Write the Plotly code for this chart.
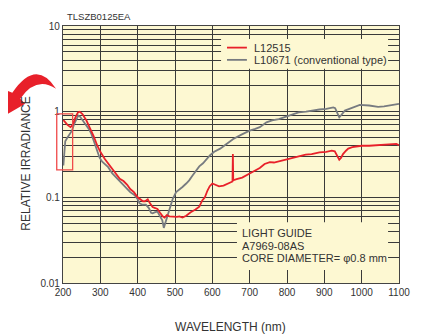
import plotly.graph_objects as go

# L12515 (red)
red_nm = [201, 205, 212, 220, 226, 233, 240, 245, 252, 262, 272, 282, 292, 300, 312, 325,
          340, 352, 362, 372, 380, 390, 400, 408, 414, 420, 427, 433, 440, 447, 453, 460,
          467, 472, 478, 485, 494, 505, 512, 520, 530, 542, 555, 565, 573, 580, 587, 593,
          600, 608, 618, 630, 645, 654, 655, 656, 665, 680, 700, 715, 727, 740, 754, 765,
          775, 790, 804, 815, 834, 850, 866, 887, 905, 920, 928, 933, 940, 945, 950, 958,
          964, 975, 1000, 1020, 1040, 1062, 1080, 1093, 1100]
red_val = [0.80, 0.76, 0.70, 0.66, 0.70, 0.85, 0.98, 1.0, 0.94, 0.80, 0.65, 0.52, 0.40, 0.34, 0.28, 0.235,
           0.19, 0.165, 0.155, 0.14, 0.125, 0.115, 0.10, 0.095, 0.09, 0.09, 0.095, 0.085, 0.077, 0.075, 0.073, 0.066,
           0.060, 0.058, 0.062, 0.060, 0.059, 0.059, 0.060, 0.058, 0.061, 0.067, 0.072, 0.078, 0.092, 0.10, 0.12, 0.135,
           0.145, 0.14, 0.134, 0.137, 0.145, 0.153, 0.32, 0.158, 0.163, 0.17, 0.19, 0.205, 0.22, 0.245, 0.257, 0.255,
           0.262, 0.27, 0.28, 0.29, 0.305, 0.315, 0.32, 0.335, 0.34, 0.35, 0.345, 0.31, 0.275, 0.29, 0.32, 0.35,
           0.37, 0.385, 0.40, 0.40, 0.405, 0.41, 0.415, 0.42, 0.405]

# L10671 (conventional type, gray)
gray_nm = [201, 203, 206, 212, 218, 224, 230, 236, 241, 246, 252, 258, 264, 270, 276, 281,
           287, 293, 298, 305, 312, 321, 332, 343, 355, 370, 380, 392, 400, 405, 413, 422,
           430, 436, 440, 447, 453, 460, 466, 470, 474, 480, 487, 494, 503, 511, 520, 530,
           538, 547, 556, 565, 575, 585, 594, 605, 621, 638, 656, 678, 700, 715, 727, 745,
           760, 778, 795, 810, 831, 851, 870, 887, 905, 924, 929, 935, 940, 946, 955, 967,
           985, 995, 1020, 1044, 1060, 1080, 1100]
gray_val = [0.235, 0.35, 0.45, 0.50, 0.54, 0.60, 0.72, 0.82, 0.90, 0.87, 0.80, 0.72, 0.66, 0.62, 0.55, 0.48,
            0.40, 0.33, 0.29, 0.26, 0.245, 0.225, 0.19, 0.17, 0.15, 0.126, 0.115, 0.106, 0.095, 0.085, 0.082, 0.082,
            0.075, 0.066, 0.065, 0.067, 0.068, 0.06, 0.054, 0.044, 0.05, 0.062, 0.08, 0.096, 0.115, 0.122, 0.132, 0.145,
            0.158, 0.18, 0.206, 0.23, 0.25, 0.28, 0.31, 0.34, 0.37, 0.42, 0.48, 0.54, 0.60, 0.63, 0.66, 0.75,
            0.79, 0.82, 0.87, 0.92, 0.98, 1.0, 1.04, 1.06, 1.08, 1.12, 1.1, 0.95, 0.86, 0.92, 1.03, 1.08,
            1.15, 1.2, 1.18, 1.14, 1.15, 1.19, 1.23]

x_ticks = [200, 300, 400, 500, 600, 700, 800, 900, 1000, 1100]
y_ticks = [0.01, 0.1, 1, 10]
y_ticktext = ["0.01", "0.1", "1", "10"]

series_names = ["L12515", "L10671 (conventional type)"]
note_lines = ["LIGHT GUIDE", "A7969-08AS", "CORE DIAMETER= \u03c60.8 mm"]

# the page body has an 8px margin, so the figure is drawn 8px smaller and
# every page pixel position below is shifted by OFF
OFF = 8
W, H = 422 - OFF, 335 - OFF
L, R, T, B = 63 - OFF, 21, 25 - OFF, 52
PW, PH = W - L - R, H - T - B

FONT = "Liberation Sans, Arial, sans-serif"
BG = "#fdf8d2"
RED = "#e8202a"
GRAY = "#777b80"
TXT = "#333333"


def px(x, y):
    # page pixel position -> paper coords
    x, y = x - OFF, y - OFF
    return (x - L) / PW, (T + PH - y) / PH


fig = go.Figure()
fig.add_trace(go.Scatter(x=gray_nm, y=gray_val, mode="lines", name=series_names[1],
                         line=dict(color=GRAY, width=1.8), showlegend=False))
fig.add_trace(go.Scatter(x=red_nm, y=red_val, mode="lines", name=series_names[0],
                         line=dict(color=RED, width=1.8), showlegend=False))

shapes = []
annots = []

# legend box (hand made so spacing matches)
x0, y0 = px(222, 38)
x1, y1 = px(390, 68)
shapes.append(dict(type="rect", xref="paper", yref="paper", x0=x0, y0=y0, x1=x1, y1=y1,
                   fillcolor=BG, line=dict(width=0), layer="above"))
for ypix, col, name in [(46.7, RED, series_names[0]), (59, GRAY, series_names[1])]:
    a, b = px(228, ypix)
    c, _ = px(248, ypix)
    shapes.append(dict(type="line", xref="paper", yref="paper", x0=a, y0=b, x1=c, y1=b,
                       line=dict(color=col, width=1.8), layer="above"))
    tx, _ = px(253, ypix)
    annots.append(dict(xref="paper", yref="paper", x=tx, y=b, text=name, showarrow=False,
                       xanchor="left", yanchor="middle", font=dict(size=11, color=TXT)))

# note box
x0, y0 = px(238, 222)
x1, y1 = px(390, 270)
shapes.append(dict(type="rect", xref="paper", yref="paper", x0=x0, y0=y0, x1=x1, y1=y1,
                   fillcolor=BG, line=dict(width=0), layer="above"))
for ypix, line in zip([233.3, 245.6, 257.8], note_lines):
    tx, ty = px(241, ypix)
    annots.append(dict(xref="paper", yref="paper", x=tx, y=ty, text=line, showarrow=False,
                       xanchor="left", yanchor="middle", font=dict(size=11, color=TXT)))

# red highlight rectangle near 200 nm
x0, y0 = px(56.7, 113.3)
x1, y1 = px(72.7, 169.5)
shapes.append(dict(type="rect", xref="paper", yref="paper", x0=x0, y0=y0, x1=x1, y1=y1,
                   line=dict(color="#f04a4a", width=1.3), layer="above"))

# curved red arrow at the left
arrow_pts = [("M", [(56, 88)]), ("Q", [(36, 57), (12, 92)]), ("L", [(5, 89)]), ("L", [(1, 117)]),
             ("L", [(25, 103)]), ("L", [(20, 98)]), ("Q", [(36, 75), (56, 88)])]
path = ""
for cmd, pts in arrow_pts:
    path += cmd + " " + " ".join("%.4f,%.4f" % px(*p) for p in pts) + " "
path += "Z"
shapes.append(dict(type="path", xref="paper", yref="paper", path=path,
                   fillcolor=RED, line=dict(width=0), layer="above"))

# titles
tx, ty = px(65, 15.7)
annots.append(dict(xref="paper", yref="paper", x=tx, y=ty, text="TLSZB0125EA", showarrow=False,
                   xanchor="left", yanchor="middle", font=dict(size=9.5, color=TXT)))
tx, ty = px(26, 163)
annots.append(dict(xref="paper", yref="paper", x=tx, y=ty, text="RELATIVE IRRADIANCE", showarrow=False,
                   textangle=-90, xanchor="center", yanchor="middle", font=dict(size=12, color=TXT)))
tx, ty = px(231, 327)
annots.append(dict(xref="paper", yref="paper", x=tx, y=ty, text="WAVELENGTH (nm)", showarrow=False,
                   xanchor="center", yanchor="middle", font=dict(size=12, color=TXT)))

GRID = "#3a3a3a"
fig.update_layout(
    width=W, height=H, autosize=False,
    margin=dict(l=L, r=R, t=T, b=B),
    paper_bgcolor="white", plot_bgcolor=BG,
    font=dict(family=FONT, size=10, color=TXT),
    shapes=shapes, annotations=annots,
    xaxis=dict(range=[200, 1100], tickvals=x_ticks, showgrid=True, gridcolor=GRID, gridwidth=1,
               showline=True, mirror=True, linecolor="#444", linewidth=1.3, zeroline=False,
               ticks="", tickfont=dict(size=10, color=TXT)),
    yaxis=dict(type="log", range=[-2, 1], tickvals=y_ticks, ticktext=y_ticktext,
               showgrid=True, gridcolor=GRID, gridwidth=1,
               minor=dict(dtick="D1", showgrid=True, gridcolor=GRID, gridwidth=1, ticks=""),
               showline=True, mirror=True, linecolor="#444", linewidth=1.3, zeroline=False,
               ticks="", tickfont=dict(size=10, color=TXT)),
)

fig.write_html("out.html")
